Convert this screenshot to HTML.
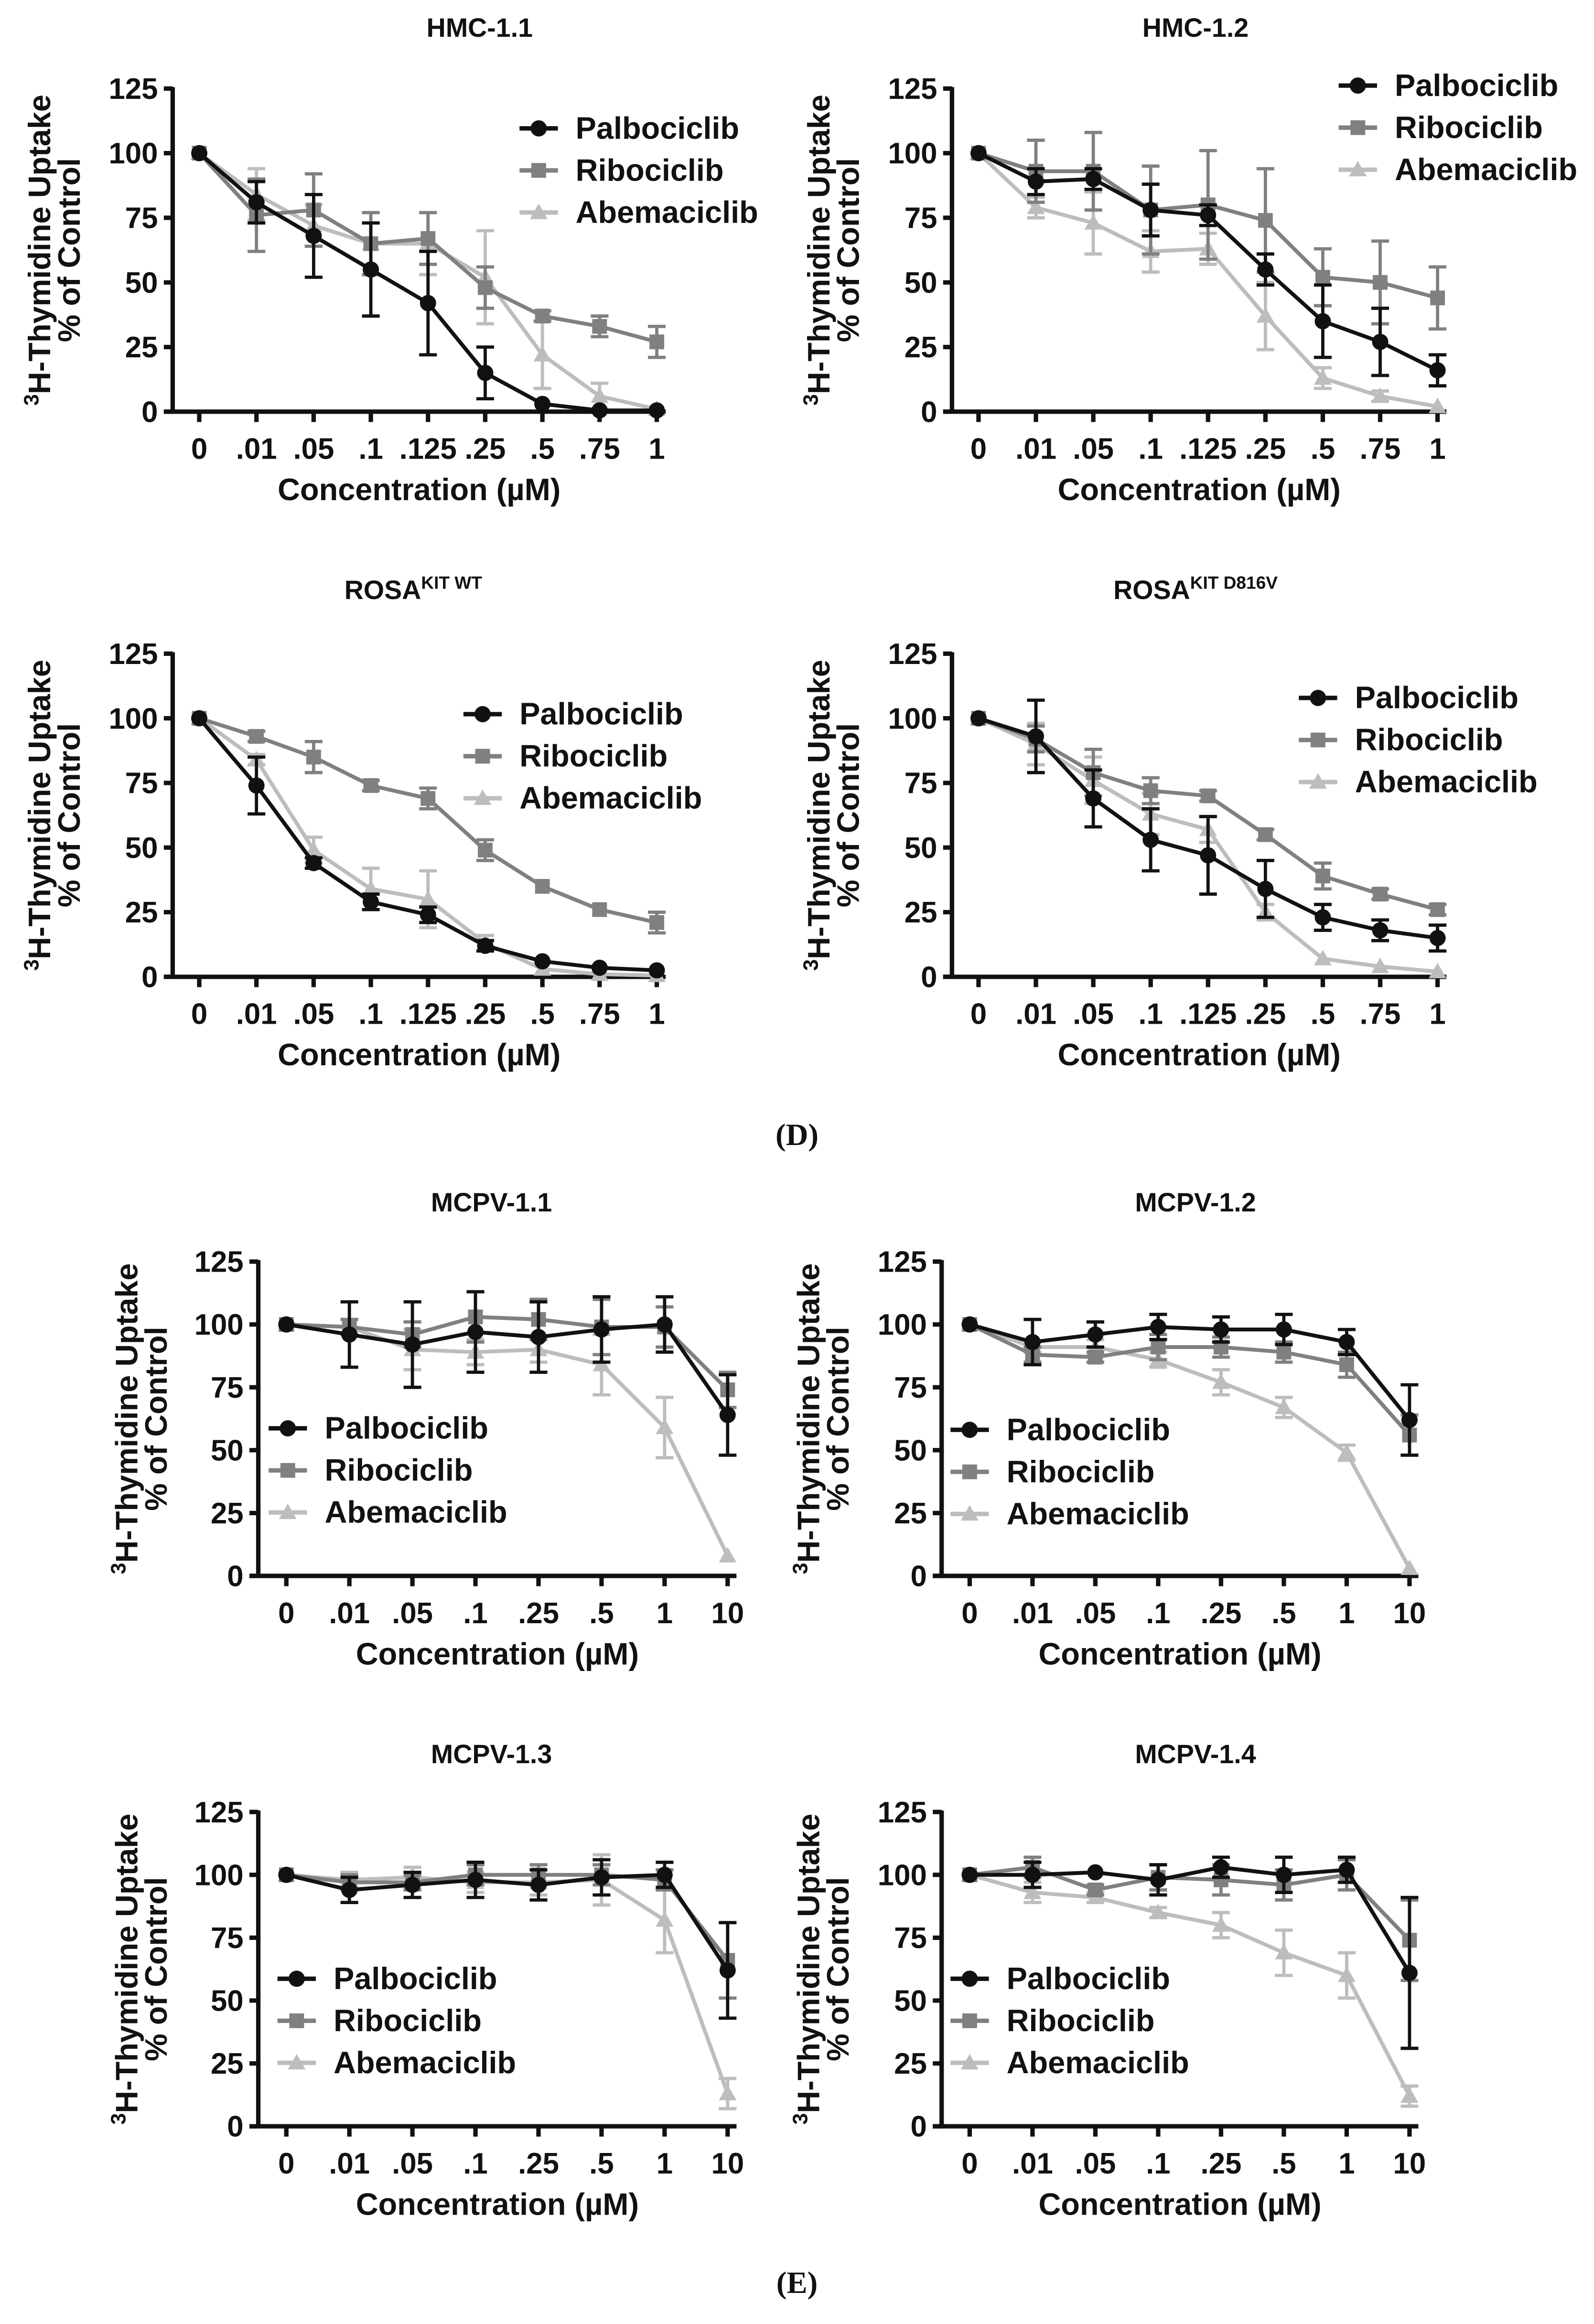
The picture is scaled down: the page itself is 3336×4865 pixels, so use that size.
<!DOCTYPE html>
<html><head><meta charset="utf-8"><style>
html,body{margin:0;padding:0;background:#fff}
svg{display:block}
text{font-family:"Liberation Sans",Arial,sans-serif;font-weight:bold;fill:#111}
</style></head>
<body>
<svg id="fig" xmlns="http://www.w3.org/2000/svg" width="3336" height="4865" viewBox="0 0 1080 1575">
<rect width="1080" height="1575" fill="#fff"/>
<text x="540" y="776" text-anchor="middle" style="font-family:'Liberation Serif',serif;font-size:21px">(D)</text>
<text x="540" y="1554" text-anchor="middle" style="font-family:'Liberation Serif',serif;font-size:21px">(E)</text>
</svg>
<script>
const ticks9 = ["0",".01",".05",".1",".125",".25",".5",".75","1"];
const ticks8 = ["0",".01",".05",".1",".25",".5","1","10"];
const yTicks = [0,25,50,75,100,125];
const drugs = ["Palbociclib","Ribociclib","Abemaciclib"];

const hmc11_pal = [100,81,68,55,42,15,3,0.5,0.5];
const hmc11_pal_err = [1,8,16,18,20,10,1,0,0];
const hmc11_rib = [100,76,78,65,67,48,37,33,27];
const hmc11_rib_err = [1,14,14,12,10,8,2,4,6];
const hmc11_abe = [100,84,72,65,65,52,22,6,1];
const hmc11_abe_err = [1,10,8,12,12,18,13,5,1];

const hmc12_pal = [100,89,90,78,76,55,35,27,16];
const hmc12_pal_err = [1,5,4,10,4,6,14,13,6];
const hmc12_rib = [100,93,93,78,80,74,52,50,44];
const hmc12_rib_err = [1,12,15,17,21,20,11,16,12];
const hmc12_abe = [100,79,73,62,63,37,13,6,2];
const hmc12_abe_err = [1,4,12,8,6,13,4,2,1];

const rosawt_pal = [100,74,44,29,24,12,6,3.5,2.5];
const rosawt_pal_err = [1,11,2,3,3,2,1,1,1];
const rosawt_rib = [100,93,85,74,69,49,35,26,21];
const rosawt_rib_err = [1,2,6,2,4,4,1,1,4];
const rosawt_abe = [100,84,49,34,30,13,3,1,0.5];
const rosawt_abe_err = [1,2,5,8,11,3,1,1,0];

const rosamut_pal = [100,93,69,53,47,34,23,18,15];
const rosamut_pal_err = [1,14,11,12,15,11,5,4,5];
const rosamut_rib = [100,92,79,72,70,55,39,32,26];
const rosamut_rib_err = [1,5,9,5,2,2,5,2,2];
const rosamut_abe = [100,90,76,63,57,25,7,4,2];
const rosamut_abe_err = [1,8,9,8,5,3,1,1,1];

const mcpv11_pal = [100,96,92,97,95,98,100,64];
const mcpv11_pal_err = [1,13,17,16,14,13,11,16];
const mcpv11_rib = [100,99,96,103,102,99,99,74];
const mcpv11_rib_err = [1,3,5,10,8,11,8,7];
const mcpv11_abe = [100,99,90,89,90,84,59,8];
const mcpv11_abe_err = [1,3,8,5,5,12,12,1];

const mcpv12_pal = [100,93,96,99,98,98,93,62];
const mcpv12_pal_err = [1,9,5,5,5,6,5,14];
const mcpv12_rib = [100,88,87,91,91,89,84,56];
const mcpv12_rib_err = [1,3,2,5,4,4,5,8];
const mcpv12_abe = [100,91,91,86,77,67,49,3];
const mcpv12_abe_err = [1,2,3,3,5,4,3,1];

const mcpv13_pal = [100,94,96,98,96,99,100,62];
const mcpv13_pal_err = [1,5,5,7,6,7,5,19];
const mcpv13_rib = [100,97,97,100,100,100,98,66];
const mcpv13_rib_err = [1,3,3,4,4,4,4,15];
const mcpv13_abe = [100,98,99,97,97,98,82,13];
const mcpv13_abe_err = [1,3,4,4,5,10,13,6];

const mcpv14_pal = [100,100,101,98,103,100,102,61];
const mcpv14_pal_err = [1,5,1,6,4,7,5,30];
const mcpv14_rib = [100,103,94,99,98,96,100,74];
const mcpv14_rib_err = [1,4,2,5,6,6,6,16];
const mcpv14_abe = [100,93,91,85,80,69,60,12];
const mcpv14_abe_err = [1,4,2,2,5,9,9,4];

const NS = "http://www.w3.org/2000/svg";
const svg = document.getElementById('fig');
const colors = ["#111111","#808080","#bdbdbd"];

function mk(tag, attrs, parent){
  const e = document.createElementNS(NS, tag);
  for (const k in attrs) e.setAttribute(k, attrs[k]);
  (parent||svg).appendChild(e);
  return e;
}
function marker(g, kind, x, y, col){
  let m;
  if (kind===0) m = mk('circle',{cx:x,cy:y,r:5.5,fill:col},g);
  else if (kind===1) m = mk('rect',{x:x-5,y:y-5,width:10,height:10,fill:col},g);
  else m = mk('polygon',{points:`${x},${y-6} ${x+6},${y+4.5} ${x-6},${y+4.5}`,fill:col},g);
  return m;
}

const panels = [
 {id:"hmc-1-1",title:["HMC-1.1",""],tx:325,ty:25,ax:117,y0:279,y125:60,x0:135,x1:445,ticks:ticks9,ytx:[27,47],leg:[365,87],series:[hmc11_pal,hmc11_rib,hmc11_abe],errs:[hmc11_pal_err,hmc11_rib_err,hmc11_abe_err]},
 {id:"hmc-1-2",title:["HMC-1.2",""],tx:810,ty:25,ax:645,y0:279,y125:60,x0:663,x1:974,ticks:ticks9,ytx:[555,575],leg:[920,58],series:[hmc12_pal,hmc12_rib,hmc12_abe],errs:[hmc12_pal_err,hmc12_rib_err,hmc12_abe_err]},
 {id:"rosa-kit-wt",title:["ROSA","KIT WT"],tx:280,ty:406,ax:117,y0:662,y125:443,x0:135,x1:445,ticks:ticks9,ytx:[27,47],leg:[327,484],series:[rosawt_pal,rosawt_rib,rosawt_abe],errs:[rosawt_pal_err,rosawt_rib_err,rosawt_abe_err]},
 {id:"rosa-kit-d816v",title:["ROSA","KIT D816V"],tx:810,ty:406,ax:645,y0:662,y125:443,x0:663,x1:974,ticks:ticks9,ytx:[555,575],leg:[893,473],series:[rosamut_pal,rosamut_rib,rosamut_abe],errs:[rosamut_pal_err,rosamut_rib_err,rosamut_abe_err]},
 {id:"mcpv-1-1",title:["MCPV-1.1",""],tx:333,ty:821,ax:175,y0:1068,y125:855,x0:194,x1:493,ticks:ticks8,ytx:[86,106],leg:[195,968],series:[mcpv11_pal,mcpv11_rib,mcpv11_abe],errs:[mcpv11_pal_err,mcpv11_rib_err,mcpv11_abe_err]},
 {id:"mcpv-1-2",title:["MCPV-1.2",""],tx:810,ty:821,ax:638,y0:1068,y125:855,x0:657,x1:955,ticks:ticks8,ytx:[548,568],leg:[657,969],series:[mcpv12_pal,mcpv12_rib,mcpv12_abe],errs:[mcpv12_pal_err,mcpv12_rib_err,mcpv12_abe_err]},
 {id:"mcpv-1-3",title:["MCPV-1.3",""],tx:333,ty:1195,ax:175,y0:1441,y125:1228,x0:194,x1:493,ticks:ticks8,ytx:[86,106],leg:[201,1341],series:[mcpv13_pal,mcpv13_rib,mcpv13_abe],errs:[mcpv13_pal_err,mcpv13_rib_err,mcpv13_abe_err]},
 {id:"mcpv-1-4",title:["MCPV-1.4",""],tx:810,ty:1195,ax:638,y0:1441,y125:1228,x0:657,x1:955,ticks:ticks8,ytx:[548,568],leg:[657,1341],series:[mcpv14_pal,mcpv14_rib,mcpv14_abe],errs:[mcpv14_pal_err,mcpv14_rib_err,mcpv14_abe_err]}
];

panels.forEach(p=>{
  const g = mk('g',{});
  
  
  const n = p.ticks.length;
  const xs = i => p.x0 + (p.x1-p.x0)*i/(n-1);
  const ys = v => p.y0 - (p.y0-p.y125)*v/125;
  const t = mk('text',{x:p.tx,y:p.ty,'text-anchor':'middle','font-size':18},g);
  
  
  t.appendChild(document.createTextNode(p.title[0]));
  if (p.title[1]){ const s = mk('tspan',{'font-size':12,dy:-7},t); s.textContent = p.title[1]; }
  const xEnd = p.x1 + 6;
  const ya = mk('line',{x1:p.ax,y1:p.y125-1,x2:p.ax,y2:p.y0,stroke:'#111','stroke-width':3},g);
  
  
  const xa = mk('line',{x1:p.ax-6,y1:p.y0,x2:xEnd,y2:p.y0,stroke:'#111','stroke-width':3},g);
  
  
  yTicks.forEach(v=>{
    mk('line',{x1:p.ax-6,y1:ys(v),x2:p.ax,y2:ys(v),stroke:'#111','stroke-width':3},g);
    const tl = mk('text',{x:p.ax-10,y:ys(v)+7,'text-anchor':'end','font-size':20},g);
    
    
    tl.textContent = v;
  });
  p.ticks.forEach((lab,i)=>{
    mk('line',{x1:xs(i),y1:p.y0,x2:xs(i),y2:p.y0+7,stroke:'#111','stroke-width':3},g);
    const tl = mk('text',{x:xs(i),y:p.y0+32,'text-anchor':'middle','font-size':20},g);
    
    
    tl.textContent = lab;
  });
  const xt = mk('text',{x:(p.ax+xEnd)/2,y:p.y0+60,'text-anchor':'middle','font-size':21},g);
  
  
  xt.textContent = 'Concentration (µM)';
  const cy = (p.y0+p.y125)/2;
  const yt1 = mk('text',{x:0,y:0,'text-anchor':'middle','font-size':21,transform:`translate(${p.ytx[0]+7},${cy}) rotate(-90)`},g);
  
  
  const sup = mk('tspan',{'font-size':14,dy:-8},yt1); sup.textContent='3';
  const rest = mk('tspan',{dy:8},yt1); rest.textContent='H-Thymidine Uptake';
  const yt2 = mk('text',{x:0,y:0,'text-anchor':'middle','font-size':21,transform:`translate(${p.ytx[1]+7},${cy}) rotate(-90)`},g);
  
  
  yt2.textContent = '% of Control';
  [2,1,0].forEach(k=>{
    const vals = p.series[k], err = p.errs[k], col = colors[k];
    const sg = mk('g',{},g);
    
    
    vals.forEach((v,i)=>{
      const e = err[i];
      if (e>1.5){
        mk('line',{x1:xs(i),y1:ys(v-e),x2:xs(i),y2:ys(v+e),stroke:col,'stroke-width':2.2},sg);
        mk('line',{x1:xs(i)-6,y1:ys(v+e),x2:xs(i)+6,y2:ys(v+e),stroke:col,'stroke-width':2.2},sg);
        mk('line',{x1:xs(i)-6,y1:ys(v-e),x2:xs(i)+6,y2:ys(v-e),stroke:col,'stroke-width':2.2},sg);
      }
    });
    const pl = mk('polyline',{points:vals.map((v,i)=>xs(i)+','+ys(v)).join(' '),fill:'none',stroke:col,'stroke-width':2.6},sg);
    
    
    vals.forEach((v,i)=>{
      const m = marker(sg,k,xs(i),ys(v),col);
      
      
    });
  });
  drugs.forEach((d,k)=>{
    const ly = p.leg[1] + k*28.5;
    const lg = mk('g',{},g);
    
    
    mk('line',{x1:p.leg[0]-13,y1:ly,x2:p.leg[0]+13,y2:ly,stroke:colors[k],'stroke-width':3},lg);
    marker(lg,k,p.leg[0],ly,colors[k]);
    const lt = mk('text',{x:p.leg[0]+25,y:ly+7,'font-size':21},lg);
    lt.textContent = d;
  });
});
</script>
</body></html>
